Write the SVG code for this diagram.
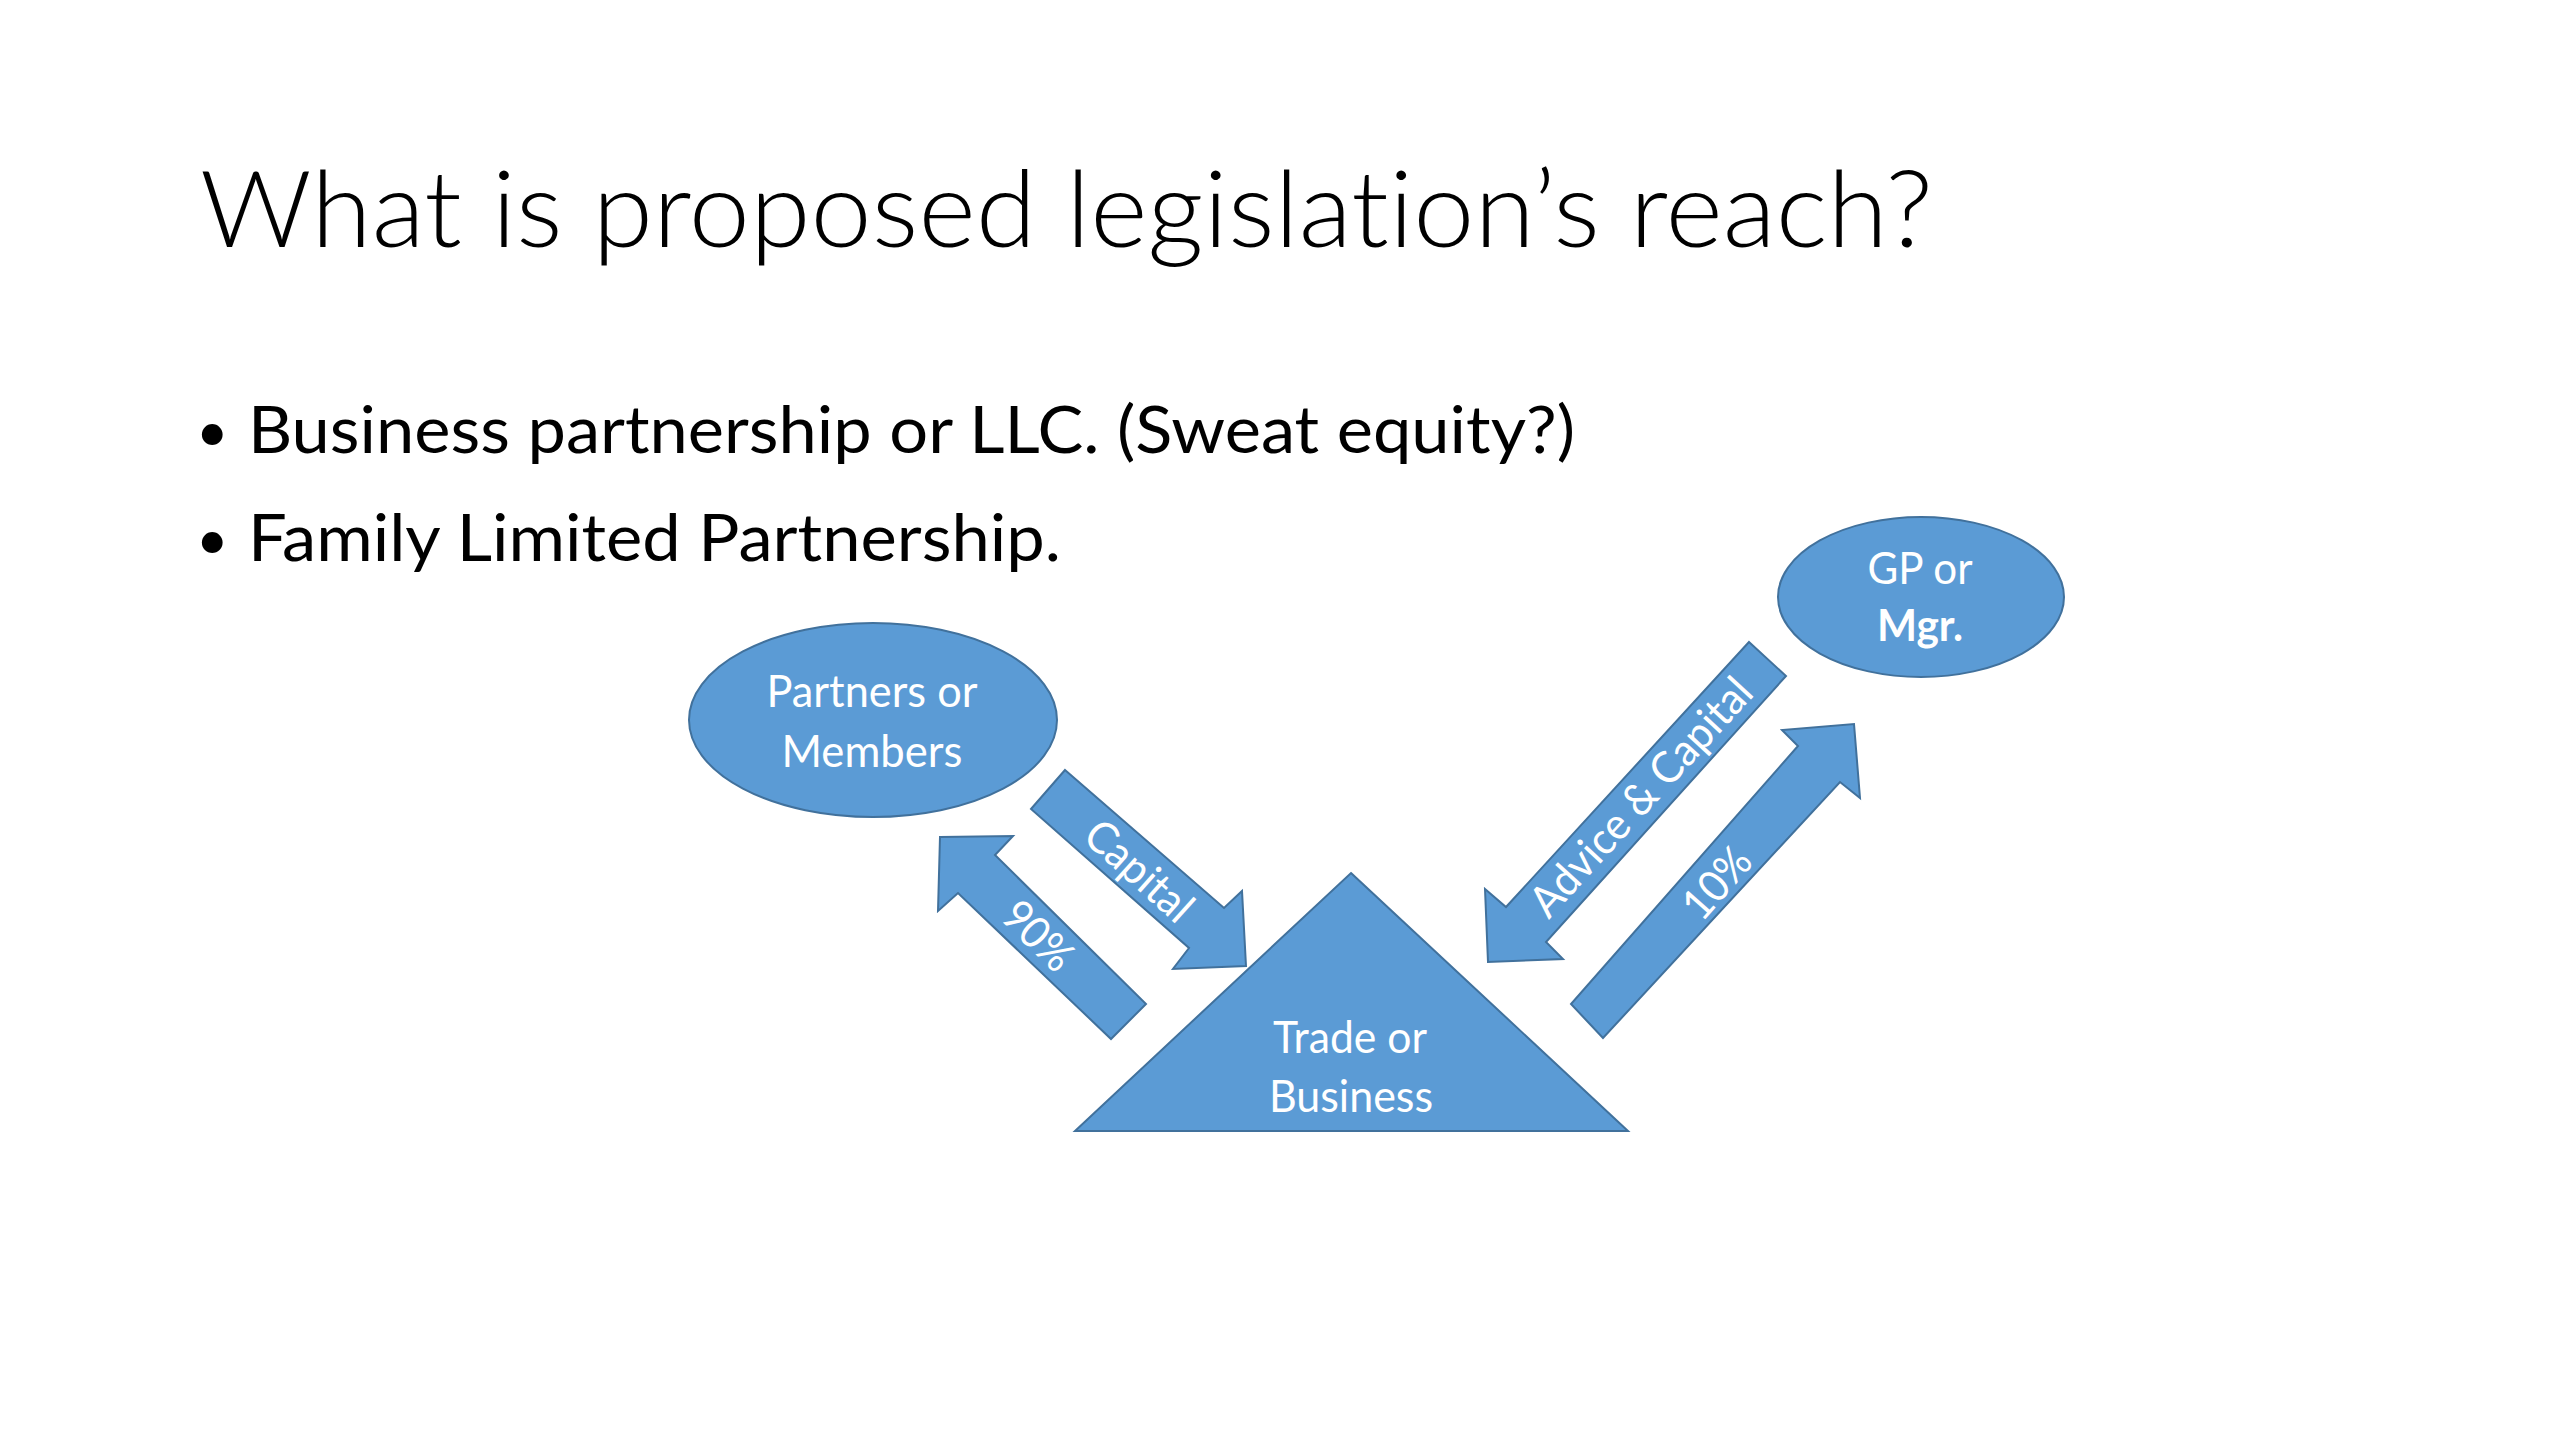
<svg xmlns="http://www.w3.org/2000/svg" width="2560" height="1440" viewBox="0 0 2560 1440">
<style>
text{font-variant-ligatures:none}
.shape{fill:#5B9BD5;stroke:#41719C;stroke-width:2}
.lbl{font-family:Lato,"Open Sans","Liberation Sans",sans-serif;font-size:44px;fill:#FFFFFF;text-anchor:middle}
.title{font-family:Lato,"Open Sans","Liberation Sans",sans-serif;font-weight:300;font-size:106px;fill:#000000}
.bullet{font-family:Lato,"Open Sans","Liberation Sans",sans-serif;font-size:66px;fill:#000000}
.dot{font-family:Lato,"Open Sans","Liberation Sans",sans-serif;font-size:56px;fill:#000000}
</style>
<rect x="0" y="0" width="2560" height="1440" fill="#FFFFFF"/>
<text class="title" x="200" y="247" textLength="1733" lengthAdjust="spacingAndGlyphs">What is proposed legislation’s reach?</text>
<g id="bullets">
<text class="dot" x="196" y="451">•</text>
<text class="bullet" x="248" y="453" textLength="1327" lengthAdjust="spacingAndGlyphs">Business partnership or LLC. (Sweat equity?)</text>
<text class="dot" x="196" y="559">•</text>
<text class="bullet" x="248" y="561" textLength="813" lengthAdjust="spacingAndGlyphs">Family Limited Partnership.</text>
</g>
<g id="node-partners">
<ellipse class="shape" cx="873" cy="720" rx="184" ry="97"/>
<text class="lbl" x="872" y="707" textLength="211" lengthAdjust="spacingAndGlyphs">Partners or</text>
<text class="lbl" x="872" y="767" textLength="181" lengthAdjust="spacingAndGlyphs">Members</text>
</g>
<g id="node-gp">
<ellipse class="shape" cx="1921" cy="597" rx="143" ry="80"/>
<text class="lbl" x="1920" y="584" textLength="105" lengthAdjust="spacingAndGlyphs">GP or</text>
<text class="lbl" x="1920" y="641" font-weight="bold" textLength="86" lengthAdjust="spacingAndGlyphs">Mgr.</text>
</g>
<g id="node-trade">
<polygon class="shape" points="1351,873 1628,1131 1075,1131"/>
<text class="lbl" x="1350" y="1053" textLength="154" lengthAdjust="spacingAndGlyphs">Trade or</text>
<text class="lbl" x="1351" y="1112" textLength="164" lengthAdjust="spacingAndGlyphs">Business</text>
</g>
<g id="connectors">
<g id="arrow-capital">
<polygon class="shape" points="1065,770 1224,908 1242,891 1246,966 1173,969 1189,948 1031,809"/>
<text class="lbl" transform="translate(1139,871) rotate(42)" x="0" y="15" textLength="129" lengthAdjust="spacingAndGlyphs">Capital</text>
</g>
<g id="arrow-90">
<polygon class="shape" points="940,837 1013,836 995,855 1146,1004 1111,1039 958,893 938,911"/>
<text class="lbl" transform="translate(1038,936) rotate(44.4)" x="0" y="15" textLength="80" lengthAdjust="spacingAndGlyphs">90%</text>
</g>
<g id="arrow-advice">
<polygon class="shape" points="1749,642 1786,676 1546,942 1563,959 1488,962 1485,889 1506,907"/>
<text class="lbl" transform="translate(1641,797) rotate(-47.5)" x="0" y="15" textLength="306" lengthAdjust="spacingAndGlyphs">Advice &amp; Capital</text>
</g>
<g id="arrow-10">
<polygon class="shape" points="1854,724 1860,798 1840,782 1603,1038 1571,1004 1798,746 1782,730"/>
<text class="lbl" transform="translate(1717,883) rotate(-48.5)" x="0" y="15" textLength="80" lengthAdjust="spacingAndGlyphs">10%</text>
</g>
</g>
</svg>
